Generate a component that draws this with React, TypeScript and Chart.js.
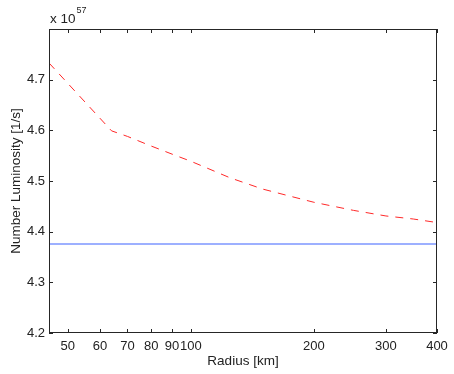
import React, { useEffect, useRef } from "react";
import { Chart, registerables } from "chart.js";

Chart.register(...registerables);

const radii = [45, 64, 70, 80, 90, 100, 125, 150, 175, 200, 250, 300, 350, 400];
const luminosity = [4.733, 4.599, 4.588, 4.569, 4.553, 4.539, 4.506, 4.484, 4.470, 4.458, 4.442, 4.431, 4.425, 4.418];
const refRadii = [45, 400];
const refLuminosity = [4.3757, 4.3757];
const xTicks = [50, 60, 70, 80, 90, 100, 200, 300, 400];
const yTicks = [4.2, 4.3, 4.4, 4.5, 4.6, 4.7, 4.8];
const yLabels = ["4.2", "4.3", "4.4", "4.5", "4.6", "4.7", ""];

const FONT = "'Liberation Sans', Arial, Helvetica, sans-serif";

const boxPlugin = {
  id: "matlabBox",
  afterDraw(chart: any) {
    const { ctx, chartArea: a, scales } = chart;
    ctx.save();
    ctx.strokeStyle = "#262626";
    ctx.lineWidth = 1;
    ctx.strokeRect(Math.round(a.left) + 0.5, Math.round(a.top) + 0.5, Math.round(a.right - a.left) - 1, Math.round(a.bottom - a.top) - 1);
    const tl = 4;
    ctx.beginPath();
    for (const v of xTicks) {
      const x = Math.round(scales.x.getPixelForValue(v)) + 0.5;
      ctx.moveTo(x, a.bottom);
      ctx.lineTo(x, a.bottom - tl);
      ctx.moveTo(x, a.top);
      ctx.lineTo(x, a.top + tl);
    }
    for (const v of yTicks) {
      const y = Math.round(scales.y.getPixelForValue(v)) + 0.5;
      ctx.moveTo(a.left, y);
      ctx.lineTo(a.left + tl, y);
      ctx.moveTo(a.right, y);
      ctx.lineTo(a.right - tl, y);
    }
    ctx.stroke();
    ctx.fillStyle = "#222";
    ctx.textBaseline = "alphabetic";
    ctx.textAlign = "left";
    ctx.font = `13.5px ${FONT}`;
    ctx.fillText("x 10", 50, 23);
    ctx.font = `9px ${FONT}`;
    ctx.fillText("57", 76.5, 13);
    ctx.restore();
  },
};

export default function App() {
  const ref = useRef<HTMLCanvasElement>(null);
  useEffect(() => {
    const chart = new Chart(ref.current as HTMLCanvasElement, {
      type: "line",
      data: {
        datasets: [
          {
            data: refRadii.map((r, i) => ({ x: r, y: refLuminosity[i] })),
            borderColor: "rgb(125,150,255)",
            borderWidth: 1.5,
            pointRadius: 0,
            tension: 0,
          },
          {
            data: radii.map((r, i) => ({ x: r, y: luminosity[i] })),
            borderColor: "rgb(255,40,40)",
            borderWidth: 1,
            borderDash: [8, 7],
            pointRadius: 0,
            tension: 0,
          },
        ],
      },
      options: {
        animation: false,
        responsive: false,
        layout: { padding: { top: 29, right: 17, left: 0, bottom: 0 } },
        plugins: { legend: { display: false }, tooltip: { enabled: false } },
        scales: {
          x: {
            type: "logarithmic",
            min: 45,
            max: 400,
            afterBuildTicks: (s: any) => {
              s.ticks = xTicks.map((v) => ({ value: v }));
            },
            afterFit: (s: any) => {
              s.height = 41;
            },
            grid: { display: false, drawTicks: false },
            border: { display: false },
            ticks: {
              autoSkip: false,
              maxRotation: 0,
              padding: 6,
              color: "#222",
              font: { family: FONT, size: 13 },
              callback: (v: any) => String(v),
            },
            title: {
              display: true,
              text: "Radius [km]",
              color: "#222",
              font: { family: FONT, size: 13.5 },
              padding: { top: 0, bottom: 5 },
            },
          },
          y: {
            type: "linear",
            min: 4.2,
            max: 4.8,
            afterBuildTicks: (s: any) => {
              s.ticks = yTicks.map((v) => ({ value: v }));
            },
            afterFit: (s: any) => {
              s.width = 49;
            },
            grid: { display: false, drawTicks: false },
            border: { display: false },
            ticks: {
              padding: 4,
              color: "#222",
              font: { family: FONT, size: 13 },
              callback: (v: any, i: number) => yLabels[i],
            },
            title: {
              display: true,
              text: "Number Luminosity [1/s]",
              color: "#222",
              font: { family: FONT, size: 13.5 },
              padding: { top: 8, bottom: 0 },
            },
          },
        },
      },
      plugins: [boxPlugin],
    });
    return () => chart.destroy();
  }, []);
  return (
    <div style={{ position: "fixed", left: 0, top: 0, width: 454, height: 374, background: "#fff" }}>
      <canvas ref={ref} width={454} height={374} />
    </div>
  );
}
